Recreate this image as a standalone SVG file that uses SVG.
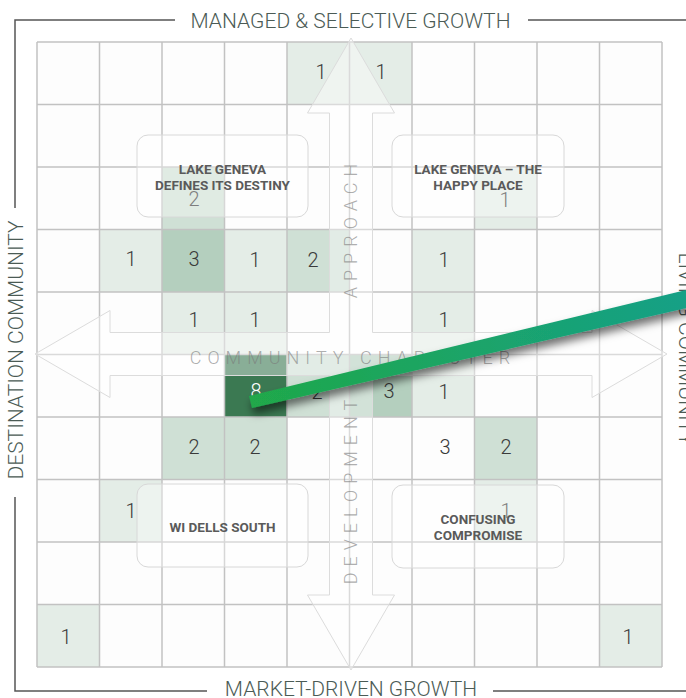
<svg xmlns="http://www.w3.org/2000/svg" width="686" height="698" viewBox="0 0 686 698">
  <defs>
    <style>
      .l1{fill:#e4ede7}
      .l2{fill:#cfe0d5}
      .l3{fill:#b4cfbe}
      .l8{fill:#3b7952}
      .gl{stroke:#c2c2c2;stroke-width:1.5;fill:none}
      .num{font-family:Roboto,"Liberation Sans",sans-serif;font-weight:300;font-size:20px;fill:#3a3a3a;text-anchor:middle;dominant-baseline:central}
      .axis{font-family:Roboto,"Liberation Sans",sans-serif;font-weight:300;font-size:21px;fill:#4b5b55;text-anchor:middle}
      .axl{stroke:#555;stroke-width:1.5;fill:none}
      .over{font-family:Roboto,"Liberation Sans",sans-serif;font-weight:300;font-size:18px;fill:#7a7a7a;fill-opacity:0.62;letter-spacing:6px;text-anchor:middle}
      .box{fill:#ffffff;fill-opacity:0.35;stroke:#d8d8d8;stroke-width:1}
      .blab{font-family:Roboto,"Liberation Sans",sans-serif;font-weight:700;font-size:13.5px;fill:#5a5a5a;text-anchor:middle}
    </style>
    <linearGradient id="lineGrad" x1="250" y1="402" x2="686" y2="300" gradientUnits="userSpaceOnUse">
      <stop offset="0" stop-color="#20a84a"/>
      <stop offset="1" stop-color="#16a086"/>
    </linearGradient>
    <filter id="shadow" x="-10%" y="-50%" width="130%" height="250%">
      <feDropShadow dx="2" dy="6" stdDeviation="4" flood-color="#000" flood-opacity="0.55"/>
    </filter>
  </defs>

  <rect x="0" y="0" width="686" height="698" fill="#ffffff"/>

  <g id="grid">
    <rect x="37" y="42" width="625" height="625" fill="#fdfdfd"/>
    <g id="cells">
      <rect class="l1" x="287" y="42" width="62.5" height="62.5"/>
      <rect class="l1" x="349.5" y="42" width="62.5" height="62.5"/>
      <rect class="l2" x="162" y="167" width="62.5" height="62.5"/>
      <rect class="l1" x="474.5" y="167" width="62.5" height="62.5"/>
      <rect class="l1" x="99.5" y="229.5" width="62.5" height="62.5"/>
      <rect class="l3" x="162" y="229.5" width="62.5" height="62.5"/>
      <rect class="l1" x="224.5" y="229.5" width="62.5" height="62.5"/>
      <rect class="l2" x="287" y="229.5" width="62.5" height="62.5"/>
      <rect class="l1" x="412" y="229.5" width="62.5" height="62.5"/>
      <rect class="l1" x="162" y="292" width="62.5" height="62.5"/>
      <rect class="l1" x="224.5" y="292" width="62.5" height="62.5"/>
      <rect class="l1" x="412" y="292" width="62.5" height="62.5"/>
      <rect class="l8" x="224.5" y="354.5" width="62.5" height="62.5"/>
      <rect class="l2" x="287" y="354.5" width="62.5" height="62.5"/>
      <rect class="l3" x="349.5" y="354.5" width="62.5" height="62.5"/>
      <rect class="l1" x="412" y="354.5" width="62.5" height="62.5"/>
      <rect class="l2" x="162" y="417" width="62.5" height="62.5"/>
      <rect class="l2" x="224.5" y="417" width="62.5" height="62.5"/>
      <rect class="l2" x="474.5" y="417" width="62.5" height="62.5"/>
      <rect class="l1" x="99.5" y="479.5" width="62.5" height="62.5"/>
      <rect class="l1" x="474.5" y="479.5" width="62.5" height="62.5"/>
      <rect class="l1" x="37" y="604.5" width="62.5" height="62.5"/>
      <rect class="l1" x="599.5" y="604.5" width="62.5" height="62.5"/>
    </g>
    <path class="gl" d="M37 42V667M99.5 42V667M162 42V667M224.5 42V667M287 42V667M349.5 42V667M412 42V667M474.5 42V667M537 42V667M599.5 42V667M662 42V667M37 42H662M37 104.5H662M37 167H662M37 229.5H662M37 292H662M37 354.5H662M37 417H662M37 479.5H662M37 542H662M37 604.5H662M37 667H662"/>
  </g>

  <g id="cross-arrows">
    <polygon points="351,38 394.5,113 372.5,113 372.5,332.5 592,332.5 592,310.5 667,354 592,397.5 592,375.5 372.5,375.5 372.5,595 394.5,595 351,670 307.5,595 329.5,595 329.5,375.5 110,375.5 110,397.5 35,354 110,310.5 110,332.5 329.5,332.5 329.5,113 307.5,113" fill="#ffffff" fill-opacity="0.4" stroke="#dcdcdc" stroke-width="1"/>
    <text class="over" x="353" y="364">COMMUNITY CHARACTER</text>
    <text class="over" transform="translate(357,228) rotate(-90)" x="0" y="0">APPROACH</text>
    <text class="over" transform="translate(357,489) rotate(-90)" x="0" y="0">DEVELOPMENT</text>
  </g>

  <g id="numbers">
    <text class="num" x="321" y="72">1</text>
    <text class="num" x="381" y="72">1</text>
    <text class="num" x="194" y="199">2</text>
    <text class="num" x="505" y="200">1</text>
    <text class="num" x="131" y="259">1</text>
    <text class="num" x="194" y="259">3</text>
    <text class="num" x="255" y="260">1</text>
    <text class="num" x="313" y="260">2</text>
    <text class="num" x="444" y="260">1</text>
    <text class="num" x="194" y="320">1</text>
    <text class="num" x="255" y="320">1</text>
    <text class="num" x="444" y="320">1</text>
    <text class="num" x="256" y="391" style="fill:#ffffff">8</text>
    <text class="num" x="317" y="392">2</text>
    <text class="num" x="389" y="391">3</text>
    <text class="num" x="444" y="392">1</text>
    <text class="num" x="194" y="447">2</text>
    <text class="num" x="255" y="447">2</text>
    <text class="num" x="445" y="447">3</text>
    <text class="num" x="506" y="447">2</text>
    <text class="num" x="131" y="511">1</text>
    <text class="num" x="506" y="511">1</text>
    <text class="num" x="66" y="637">1</text>
    <text class="num" x="628" y="637">1</text>
  </g>

  <g id="q-lake-geneva-destiny">
    <rect class="box" x="137" y="135" width="171" height="82" rx="11"/>
    <text class="blab" x="222.5" y="174">LAKE GENEVA</text>
    <text class="blab" x="222.5" y="190">DEFINES ITS DESTINY</text>
  </g>
  <g id="q-lake-geneva-happy">
    <rect class="box" x="392" y="135" width="172" height="82" rx="11"/>
    <text class="blab" x="478" y="174">LAKE GENEVA – THE</text>
    <text class="blab" x="478" y="190">HAPPY PLACE</text>
  </g>
  <g id="q-wi-dells-south">
    <rect class="box" x="137" y="484" width="171" height="83" rx="11"/>
    <text class="blab" x="222.5" y="532">WI DELLS SOUTH</text>
  </g>
  <g id="q-confusing-compromise">
    <rect class="box" x="392" y="485" width="172" height="83" rx="11"/>
    <text class="blab" x="478" y="524">CONFUSING</text>
    <text class="blab" x="478" y="540">COMPROMISE</text>
  </g>

  <g id="axes">
    <path class="axl" d="M15 208V20H175M528 20H686"/>
    <path class="axl" d="M15 497V691H207M493 691H686"/>
    <text class="axis" x="350.5" y="28">MANAGED &amp; SELECTIVE GROWTH</text>
    <text class="axis" x="351" y="696">MARKET-DRIVEN GROWTH</text>
    <text class="axis" transform="translate(23,350) rotate(-90)" x="0" y="0">DESTINATION COMMUNITY</text>
    <text class="axis" transform="translate(679,349) rotate(90)" x="0" y="0">LIVING COMMUNITY</text>
  </g>

  <g id="connectors">
    <polygon points="249,396 684,290.5 700,287 703,303.5 687.7,307.8 252,408" fill="url(#lineGrad)" filter="url(#shadow)"/>
  </g>
</svg>
